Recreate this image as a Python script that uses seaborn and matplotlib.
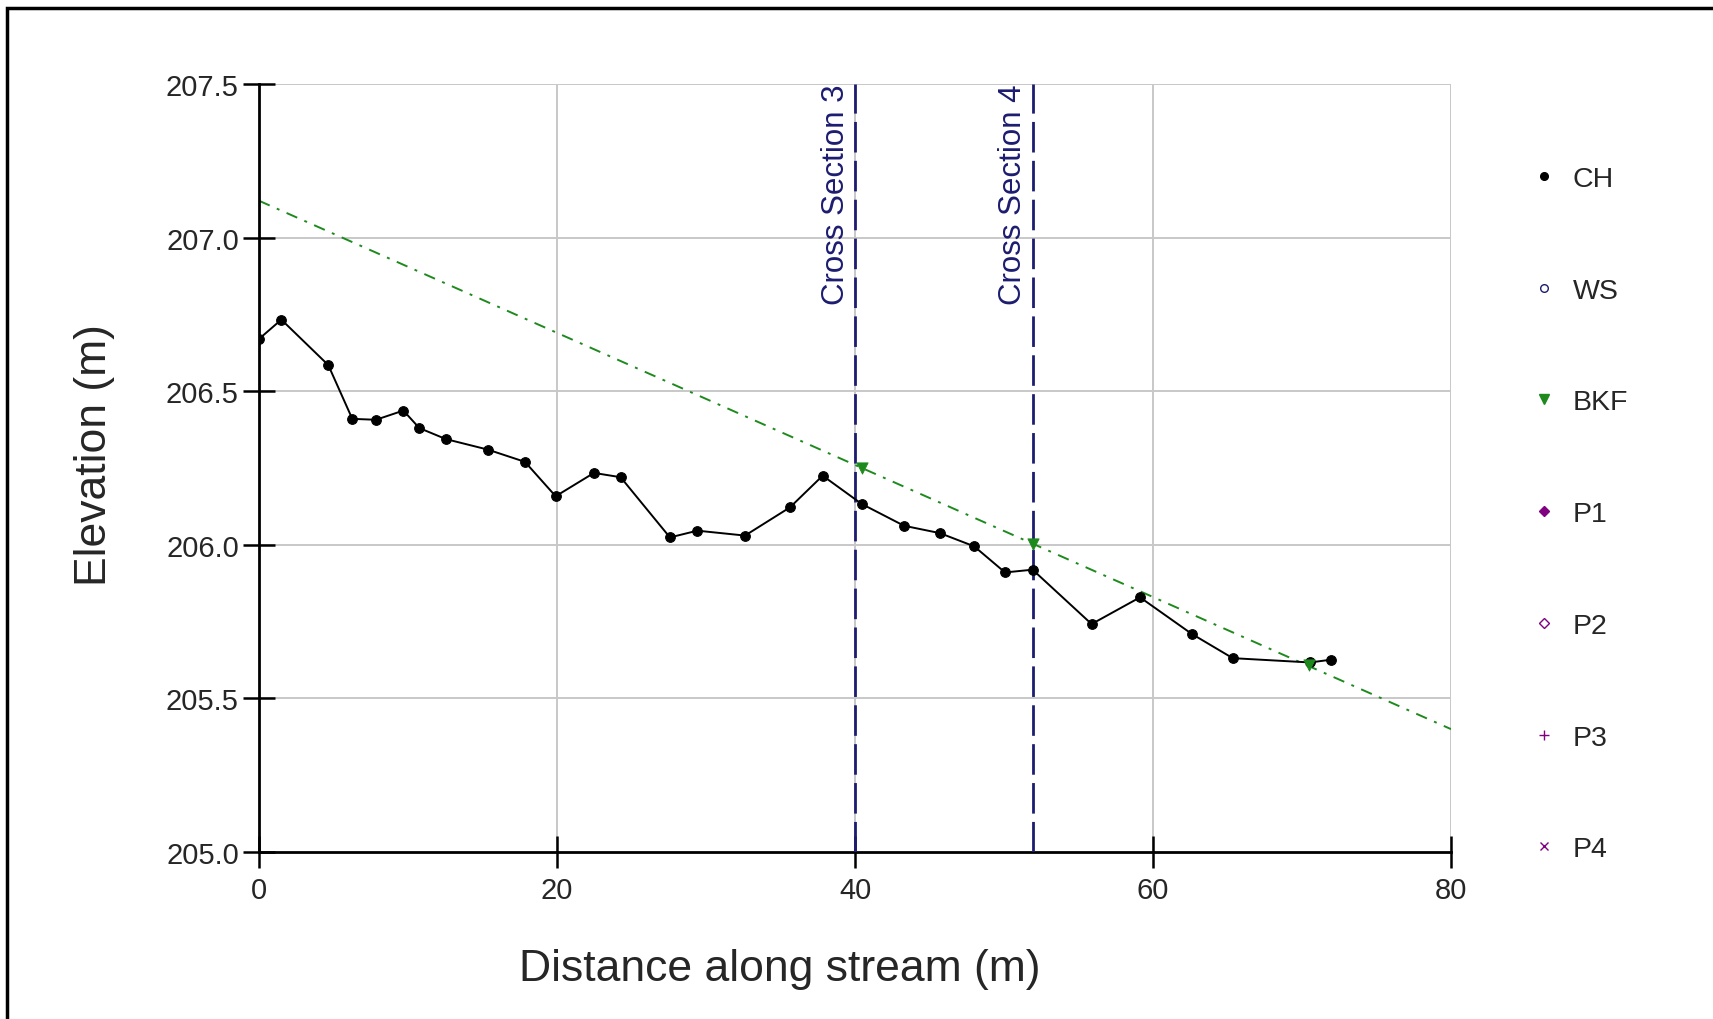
import matplotlib
matplotlib.use("Agg")
import matplotlib.pyplot as plt
import seaborn as sns
import pandas as pd
from matplotlib.lines import Line2D
from matplotlib.patches import Rectangle

# Channel thalweg (CH) survey points
ch_dist = [0.0, 1.5, 4.65, 6.26, 7.85, 9.69, 10.76, 12.55, 15.35, 17.85,
           19.91, 22.48, 24.27, 27.58, 29.42, 32.62, 35.64, 37.83, 40.45,
           43.29, 45.7, 48.0, 50.07, 51.92, 55.88, 59.13, 62.6, 65.35,
           70.54, 71.95]
ch_elev = [206.67, 206.733, 206.585, 206.41, 206.407, 206.437, 206.38,
           206.344, 206.31, 206.27, 206.158, 206.234, 206.22, 206.024,
           206.046, 206.03, 206.122, 206.225, 206.133, 206.062, 206.038,
           205.995, 205.91, 205.919, 205.742, 205.829, 205.71, 205.631,
           205.617, 205.626]

# Bankfull (BKF) points and its trend line
bkf_dist = [40.5, 51.92, 70.5]
bkf_elev = [206.249, 206.003, 205.609]
bkf_fit_dist = [0, 80]
bkf_fit_elev = [207.12, 205.40]

# Cross section positions
xs_pos = [40.0, 51.92]
xs_names = ["Cross Section 3", "Cross Section 4"]

legend_labels = ["CH", "WS", "BKF", "P1", "P2", "P3", "P4"]

ch = pd.DataFrame({"dist": ch_dist, "elev": ch_elev})
bkf = pd.DataFrame({"dist": bkf_dist, "elev": bkf_elev})
fit = pd.DataFrame({"dist": bkf_fit_dist, "elev": bkf_fit_elev})

sns.set_style("white")
plt.rcParams["font.family"] = ["Liberation Sans", "DejaVu Sans"]

fig = plt.figure(figsize=(17.13, 10.2), dpi=100)
ax = fig.add_axes([259 / 1713, 1 - 853 / 1020, 1192 / 1713, 768 / 1020])

green = "#1e8a1e"
navy = "#1c1c70"
purple = "#800080"

# grid
for gx in [20, 40, 60, 80]:
    ax.axvline(gx, color="#c8c8c8", lw=1.4, zorder=0)
for gy in [205.5, 206.0, 206.5, 207.0, 207.5]:
    ax.axhline(gy, color="#c8c8c8", lw=1.4, zorder=0)

# bankfull trend line
sns.lineplot(data=fit, x="dist", y="elev", ax=ax, color=green, lw=1.4,
             linestyle=(0, (6, 4, 1.5, 4)), zorder=2)

# cross sections
for pos, name in zip(xs_pos, xs_names):
    ax.axvline(pos, color=navy, lw=2, linestyle=(0, (11, 3)), zorder=3)
    ax.text(pos - 0.3, 207.5, name, rotation=90, ha="right", va="top",
            color=navy, fontsize=22.5)

# channel profile
sns.lineplot(data=ch, x="dist", y="elev", ax=ax, color="black", lw=1.4,
             marker="o", markersize=7, markeredgecolor="black", zorder=4)

sns.scatterplot(data=bkf, x="dist", y="elev", ax=ax, color=green,
                marker="v", s=65, edgecolor=green, zorder=5)

ax.set_xlim(0, 80)
ax.set_ylim(205.0, 207.5)
ax.set_xticks([0, 20, 40, 60, 80])
ax.set_yticks([205.0, 205.5, 206.0, 206.5, 207.0, 207.5])
ax.set_yticklabels(["205.0", "205.5", "206.0", "206.5", "207.0", "207.5"])
ax.tick_params(bottom=True, left=True, direction="inout", length=23,
               width=1.8, labelsize=21, color="black", pad=3)
ax.tick_params(axis="x", pad=6)

for s in ["top", "right"]:
    ax.spines[s].set_visible(False)
for s in ["left", "bottom"]:
    ax.spines[s].set_color("black")
    ax.spines[s].set_linewidth(2)

ax.set_xlabel("Distance along stream (m)", fontsize=32)
ax.set_ylabel("Elevation (m)", fontsize=32)
ax.xaxis.set_label_coords(0.437, -0.125)
ax.yaxis.set_label_coords(-0.121, 0.518)

# legend: markers only
handles = [
    Line2D([], [], ls="none", marker="o", ms=5.5, color="black"),
    Line2D([], [], ls="none", marker="o", ms=5.5, mfc="white", mec=navy),
    Line2D([], [], ls="none", marker="v", ms=6.5, color=green),
    Line2D([], [], ls="none", marker="D", ms=5, color=purple),
    Line2D([], [], ls="none", marker="D", ms=5, mfc="white", mec=purple),
    Line2D([], [], ls="none", marker="+", ms=7, color=purple),
    Line2D([], [], ls="none", marker="x", ms=5.5, color=purple),
]
fig.legend(handles, legend_labels, loc="upper left",
           bbox_to_anchor=(1530 / 1713, 1 - 167 / 1020), frameon=False,
           fontsize=20.5, labelspacing=3.01, handlelength=1.0,
           handletextpad=0.5, borderaxespad=0, borderpad=0)

# outer frame
fig.add_artist(Rectangle((7 / 1713, -0.2), 1.2, 1.2 - 9 / 1020,
                         transform=fig.transFigure, fill=False,
                         ec="black", lw=2.5, clip_on=False))

fig.savefig("out.png", dpi=100)
